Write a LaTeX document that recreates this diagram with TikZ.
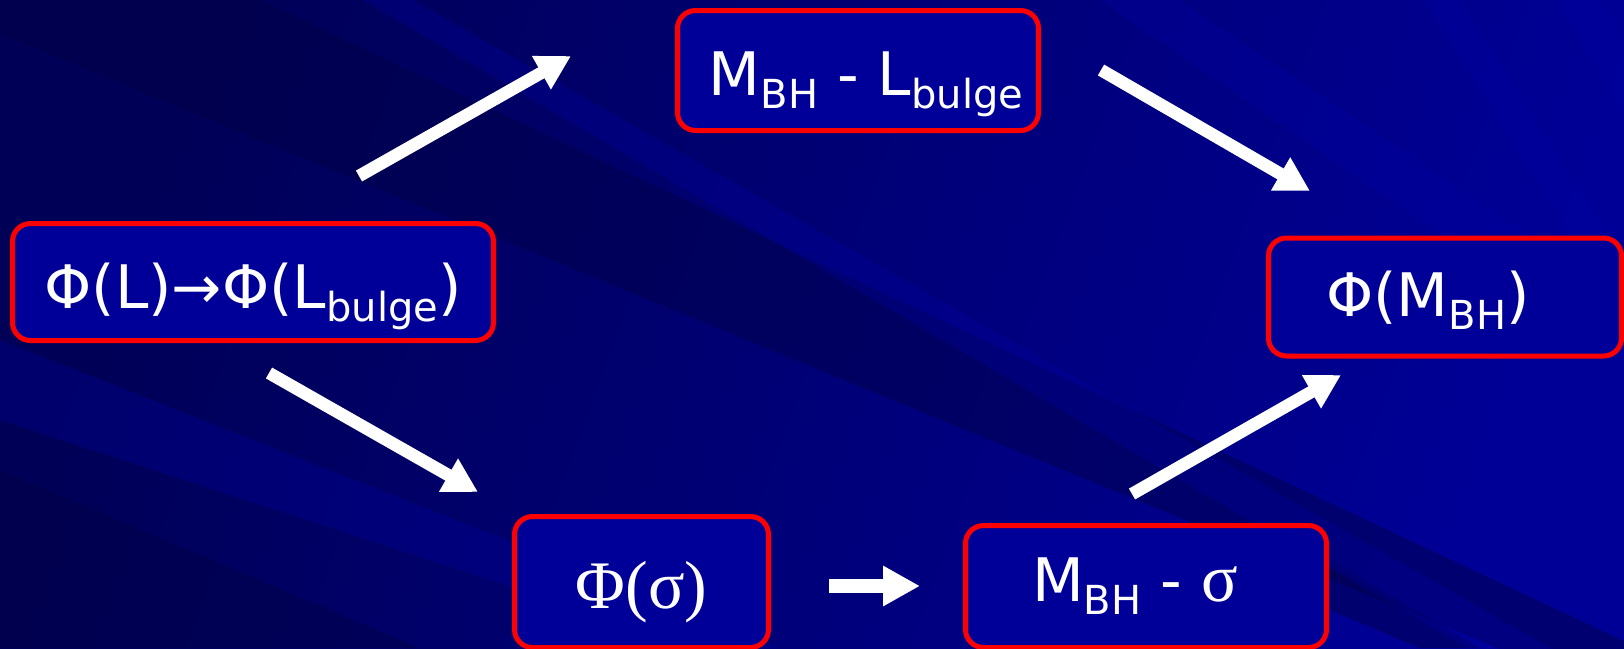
\documentclass[tikz,border=0pt]{standalone}
\usepackage{fontspec}
\setmainfont{DejaVu Sans}
\newfontfamily\sergr{Liberation Serif}
\usetikzlibrary{arrows.meta}
\definecolor{bgdark}{RGB}{0,0,86}
\definecolor{bglight}{RGB}{0,0,150}
\definecolor{banddark}{RGB}{0,0,70}
\definecolor{bandlight}{RGB}{0,0,165}
\definecolor{boxfill}{RGB}{0,0,153}
\newcommand{\sbs}[1]{\raisebox{-13pt}{\fontsize{40}{40}\selectfont #1}}
\begin{document}
\begin{tikzpicture}[x=1pt,y=-1pt,
  box/.style={draw=red, line width=5pt, fill=boxfill, rounded corners=18pt,
    text=white, font=\fontsize{60}{70}\selectfont, inner sep=0pt, text depth=0pt},
  bigarrow/.style={draw=white, line width=12.5pt, -{Triangle[width=36pt,length=34pt]}},
  darkband/.style={fill=banddark, opacity=0.45},
  lightband/.style={fill=bandlight, opacity=0.3}]
\useasboundingbox (0,0) rectangle (1624,648);
\shade[top color=bgdark, bottom color=bglight, shading angle=70] (0,0) rectangle (1624,648);
% diagonal streaks
\begin{scope}
\clip (0,0) rectangle (1624,648);
\fill[darkband] (260,0) -- (1624,641) -- (1624,700) -- (-82,0) -- cycle;
\fill[darkband] (0,470) -- (0,648) -- (420,648) -- cycle;
\fill[darkband] (1330,560) -- (1330,610) -- (1420,648) -- (1480,648) -- cycle;
\fill[lightband] (0,340) -- (0,420) -- (700,648) -- (780,648) -- cycle;
\fill[lightband] (363,0) -- (413,0) -- (1624,690) -- (1624,740) -- cycle;
\fill[lightband] (1424,0) -- (1460,0) -- (1624,260) -- (1624,320) -- cycle;
\fill[lightband] (1555,0) -- (1600,0) -- (1624,40) -- (1624,110) -- cycle;
\fill[lightband] (1100,0) -- (1180,0) -- (1624,300) -- (1624,360) -- cycle;
\end{scope}
% boxes
\node[box, minimum width=481pt, minimum height=117pt, text height=53.7pt] (phiL) at (253,282)
  {Φ(L)→Φ(L\sbs{bulge})};
\node[box, minimum width=361pt, minimum height=120pt, text height=50.7pt] (mbhL) at (858,70.5)
  {\kern16pt M\sbs{BH} - L\sbs{bulge}};
\node[box, minimum width=353pt, minimum height=118pt, text height=39.7pt] (phiM) at (1445,297)
  {Φ(M\sbs{BH})\kern34pt};
\node[box, minimum width=254pt, minimum height=131pt, text height=53pt,
  font=\sergr\fontsize{68}{74}\selectfont] (phiS) at (641.5,582) {Φ(σ)};
\node[box, minimum width=361pt, minimum height=122pt, text height=30.7pt] (mbhS) at (1146,586.5)
  {M\sbs{BH} - {\sergr\fontsize{68}{74}\selectfont σ}\kern22pt};
% arrow ends
\coordinate (a1s) at (359,176); \coordinate (a1e) at (571,56);
\coordinate (a2s) at (1101,70); \coordinate (a2e) at (1310,191);
\coordinate (a3s) at (269,373); \coordinate (a3e) at (478,492);
\coordinate (a4s) at (1132,494); \coordinate (a4e) at (1341,375);
\coordinate (a5s) at (829,586); \coordinate (a5e) at (920,586);
\draw[bigarrow] (a1s) -- (a1e);
\draw[bigarrow] (a2s) -- (a2e);
\draw[bigarrow] (a3s) -- (a3e);
\draw[bigarrow] (a4s) -- (a4e);
\draw[bigarrow, line width=14pt, -{Triangle[width=38pt,length=37pt]}] (a5s) -- (a5e);
\end{tikzpicture}
\end{document}
